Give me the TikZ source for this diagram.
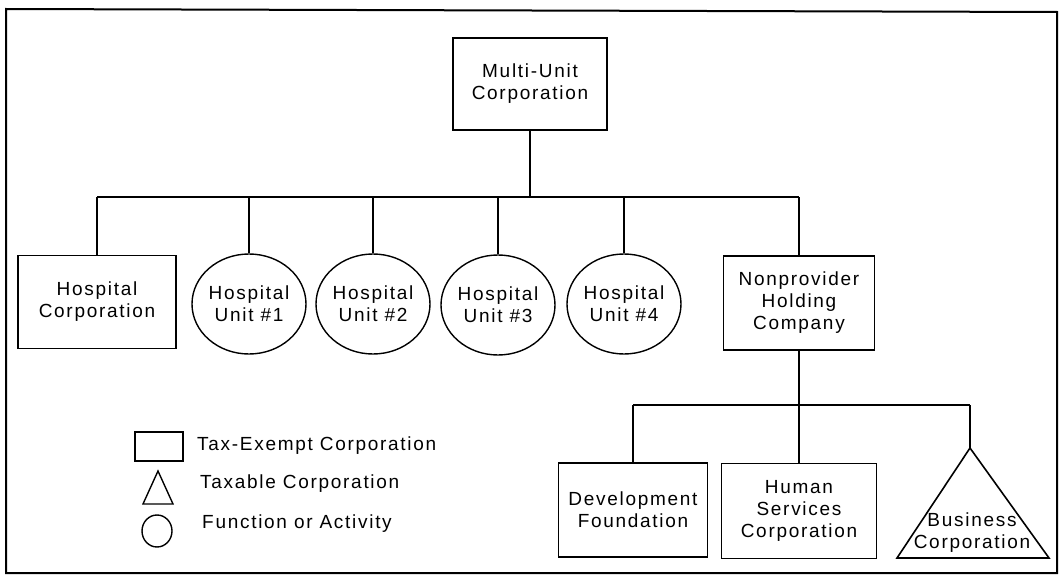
\documentclass[tikz,border=0pt]{standalone}
\usepackage{fontspec}
\setmainfont{Liberation Sans}[LetterSpace=9]
\usetikzlibrary{shapes.geometric}

\begin{document}
\begin{tikzpicture}[x=1pt,y=-1pt,
  every node/.style={font=\fontsize{19}{22}\selectfont, align=center, inner sep=0pt},
  corpbox/.style={draw, line width=1.6pt, rectangle},
  unitcircle/.style={draw, line width=1.4pt, ellipse, minimum width=96pt, minimum height=100pt},
  conn/.style={line width=1.3pt},
  legendtext/.style={anchor=base west}]

% page and outer frame
\useasboundingbox (0,0) rectangle (1061,578);
\draw[line width=2pt, line join=miter] (6,9) -- (1057,12) -- (1057,573) -- (6,573) -- cycle;

% parent corporation
\node[corpbox, minimum width=154pt, minimum height=92pt] (multi) at (530,84) {Multi-Unit\\Corporation};

% first level
\node[corpbox, minimum width=158pt, minimum height=93pt] (hc) at (97,302) {Hospital\\Corporation};
\node[unitcircle] (u1) at (249,304) {Hospital\\Unit \#1};
\node[unitcircle] (u2) at (373,304) {Hospital\\Unit \#2};
\node[unitcircle] (u3) at (498,305) {Hospital\\Unit \#3};
\node[unitcircle] (u4) at (624,304) {Hospital\\Unit \#4};
\node[corpbox, minimum width=151pt, minimum height=94pt] (nph) at (799,303) {Nonprovider\\Holding\\Company};

% second level
\node[corpbox, minimum width=149pt, minimum height=94pt] (dev) at (633,510) {Development\\Foundation};
\node[corpbox, minimum width=155pt, minimum height=95pt] (hum) at (799,511) {Human\\Services\\Corporation};
\coordinate (bizapex) at (970,448);
\coordinate (bizright) at (1049,558);
\coordinate (bizleft) at (897,558);
\draw[line width=1.6pt, line join=miter] (bizapex) -- (bizright) -- (bizleft) -- cycle;
\node[font=\fontsize{19}{22}\selectfont] (biz) at (972,533) {Business\\Corporation};

% connectors, first level
\coordinate (bus1) at (0,197);
\draw[conn] (multi.south) -- (multi.south |- bus1);
\draw[conn] (hc.north |- bus1) -- (nph.north |- bus1);
\foreach \n in {hc,u1,u2,u3,u4,nph}
  \draw[conn] (\n.north) -- (\n.north |- bus1);

% connectors, second level
\coordinate (bus2) at (0,405);
\draw[conn] (nph.south) -- (nph.south |- bus2);
\draw[conn] (dev.north |- bus2) -- (bizapex |- bus2);
\draw[conn] (dev.north) -- (dev.north |- bus2);
\draw[conn] (hum.north) -- (hum.north |- bus2);
\draw[conn] (bizapex) -- (bizapex |- bus2);

% legend
\node[corpbox, line width=1.4pt, minimum width=48pt, minimum height=29pt] (legrect) at (159,446.5) {};
\node[legendtext] (legrectlabel) at (197,450) {Tax-Exempt Corporation};
\coordinate (legtriapex) at (158,471);
\draw[line width=1.4pt] (legtriapex) -- (173,504) -- (143,504) -- cycle;
\node[legendtext] (legtrilabel) at (200,488) {Taxable Corporation};
\node[draw, line width=1.4pt, ellipse, minimum width=30pt, minimum height=32pt] (legcirc) at (157,531) {};
\node[legendtext] (legcirclabel) at (202,528) {Function or Activity};
\end{tikzpicture}
\end{document}
